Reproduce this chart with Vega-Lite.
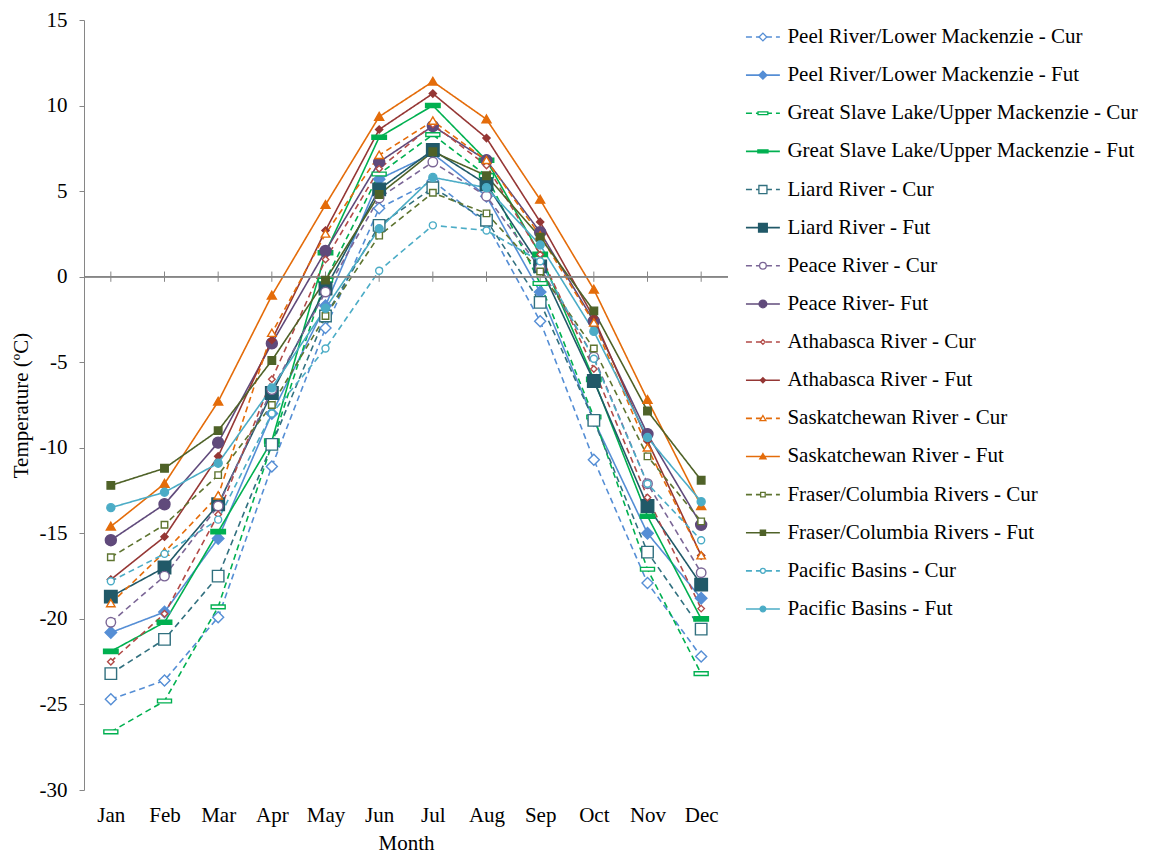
{
  "$schema": "https://vega.github.io/schema/vega-lite/v6.json",
  "padding": {"left": 10, "top": 9, "right": 0, "bottom": 0},
  "background": "white",
  "config": {"view": {"stroke": null}, "font": "Liberation Serif"},
  "spacing": 0,
  "datasets": {
    "series": [
      {"s": "Peel River/Lower Mackenzie - Cur"},
      {"s": "Peel River/Lower Mackenzie - Fut"},
      {"s": "Great Slave Lake/Upper Mackenzie - Cur"},
      {"s": "Great Slave Lake/Upper Mackenzie - Fut"},
      {"s": "Liard River - Cur"},
      {"s": "Liard River - Fut"},
      {"s": "Peace River - Cur"},
      {"s": "Peace River- Fut"},
      {"s": "Athabasca River - Cur"},
      {"s": "Athabasca River - Fut"},
      {"s": "Saskatchewan River - Cur"},
      {"s": "Saskatchewan River - Fut"},
      {"s": "Fraser/Columbia Rivers - Cur"},
      {"s": "Fraser/Columbia Rivers - Fut"},
      {"s": "Pacific Basins - Cur"},
      {"s": "Pacific Basins - Fut"}
    ],
    "months": [
      {"m": "Jan"}, {"m": "Feb"}, {"m": "Mar"}, {"m": "Apr"}, {"m": "May"}, {"m": "Jun"},
      {"m": "Jul"}, {"m": "Aug"}, {"m": "Sep"}, {"m": "Oct"}, {"m": "Nov"}, {"m": "Dec"}
    ],
    "temps": [
      {"s": "Peel River/Lower Mackenzie - Cur", "m": "Jan", "t": -24.7},
      {"s": "Peel River/Lower Mackenzie - Cur", "m": "Feb", "t": -23.6},
      {"s": "Peel River/Lower Mackenzie - Cur", "m": "Mar", "t": -19.9},
      {"s": "Peel River/Lower Mackenzie - Cur", "m": "Apr", "t": -11.1},
      {"s": "Peel River/Lower Mackenzie - Cur", "m": "May", "t": -3.0},
      {"s": "Peel River/Lower Mackenzie - Cur", "m": "Jun", "t": 4.0},
      {"s": "Peel River/Lower Mackenzie - Cur", "m": "Jul", "t": 5.6},
      {"s": "Peel River/Lower Mackenzie - Cur", "m": "Aug", "t": 3.1},
      {"s": "Peel River/Lower Mackenzie - Cur", "m": "Sep", "t": -2.6},
      {"s": "Peel River/Lower Mackenzie - Cur", "m": "Oct", "t": -10.7},
      {"s": "Peel River/Lower Mackenzie - Cur", "m": "Nov", "t": -17.9},
      {"s": "Peel River/Lower Mackenzie - Cur", "m": "Dec", "t": -22.2},
      {"s": "Peel River/Lower Mackenzie - Fut", "m": "Jan", "t": -20.8},
      {"s": "Peel River/Lower Mackenzie - Fut", "m": "Feb", "t": -19.6},
      {"s": "Peel River/Lower Mackenzie - Fut", "m": "Mar", "t": -15.3},
      {"s": "Peel River/Lower Mackenzie - Fut", "m": "Apr", "t": -8.0},
      {"s": "Peel River/Lower Mackenzie - Fut", "m": "May", "t": -1.7},
      {"s": "Peel River/Lower Mackenzie - Fut", "m": "Jun", "t": 5.7},
      {"s": "Peel River/Lower Mackenzie - Fut", "m": "Jul", "t": 7.2},
      {"s": "Peel River/Lower Mackenzie - Fut", "m": "Aug", "t": 4.7},
      {"s": "Peel River/Lower Mackenzie - Fut", "m": "Sep", "t": -0.9},
      {"s": "Peel River/Lower Mackenzie - Fut", "m": "Oct", "t": -8.4},
      {"s": "Peel River/Lower Mackenzie - Fut", "m": "Nov", "t": -15.0},
      {"s": "Peel River/Lower Mackenzie - Fut", "m": "Dec", "t": -18.8},
      {"s": "Great Slave Lake/Upper Mackenzie - Cur", "m": "Jan", "t": -26.6},
      {"s": "Great Slave Lake/Upper Mackenzie - Cur", "m": "Feb", "t": -24.8},
      {"s": "Great Slave Lake/Upper Mackenzie - Cur", "m": "Mar", "t": -19.3},
      {"s": "Great Slave Lake/Upper Mackenzie - Cur", "m": "Apr", "t": -9.8},
      {"s": "Great Slave Lake/Upper Mackenzie - Cur", "m": "May", "t": -0.2},
      {"s": "Great Slave Lake/Upper Mackenzie - Cur", "m": "Jun", "t": 6.0},
      {"s": "Great Slave Lake/Upper Mackenzie - Cur", "m": "Jul", "t": 8.3},
      {"s": "Great Slave Lake/Upper Mackenzie - Cur", "m": "Aug", "t": 5.9},
      {"s": "Great Slave Lake/Upper Mackenzie - Cur", "m": "Sep", "t": -0.4},
      {"s": "Great Slave Lake/Upper Mackenzie - Cur", "m": "Oct", "t": -8.2},
      {"s": "Great Slave Lake/Upper Mackenzie - Cur", "m": "Nov", "t": -17.1},
      {"s": "Great Slave Lake/Upper Mackenzie - Cur", "m": "Dec", "t": -23.2},
      {"s": "Great Slave Lake/Upper Mackenzie - Fut", "m": "Jan", "t": -21.9},
      {"s": "Great Slave Lake/Upper Mackenzie - Fut", "m": "Feb", "t": -20.2},
      {"s": "Great Slave Lake/Upper Mackenzie - Fut", "m": "Mar", "t": -14.9},
      {"s": "Great Slave Lake/Upper Mackenzie - Fut", "m": "Apr", "t": -9.6},
      {"s": "Great Slave Lake/Upper Mackenzie - Fut", "m": "May", "t": 1.4},
      {"s": "Great Slave Lake/Upper Mackenzie - Fut", "m": "Jun", "t": 8.15},
      {"s": "Great Slave Lake/Upper Mackenzie - Fut", "m": "Jul", "t": 10.0},
      {"s": "Great Slave Lake/Upper Mackenzie - Fut", "m": "Aug", "t": 6.8},
      {"s": "Great Slave Lake/Upper Mackenzie - Fut", "m": "Sep", "t": 1.3},
      {"s": "Great Slave Lake/Upper Mackenzie - Fut", "m": "Oct", "t": -6.0},
      {"s": "Great Slave Lake/Upper Mackenzie - Fut", "m": "Nov", "t": -14.0},
      {"s": "Great Slave Lake/Upper Mackenzie - Fut", "m": "Dec", "t": -20.0},
      {"s": "Liard River - Cur", "m": "Jan", "t": -23.2},
      {"s": "Liard River - Cur", "m": "Feb", "t": -21.2},
      {"s": "Liard River - Cur", "m": "Mar", "t": -17.5},
      {"s": "Liard River - Cur", "m": "Apr", "t": -9.8},
      {"s": "Liard River - Cur", "m": "May", "t": -2.3},
      {"s": "Liard River - Cur", "m": "Jun", "t": 3.0},
      {"s": "Liard River - Cur", "m": "Jul", "t": 5.2},
      {"s": "Liard River - Cur", "m": "Aug", "t": 3.3},
      {"s": "Liard River - Cur", "m": "Sep", "t": -1.5},
      {"s": "Liard River - Cur", "m": "Oct", "t": -8.4},
      {"s": "Liard River - Cur", "m": "Nov", "t": -16.1},
      {"s": "Liard River - Cur", "m": "Dec", "t": -20.6},
      {"s": "Liard River - Fut", "m": "Jan", "t": -18.7},
      {"s": "Liard River - Fut", "m": "Feb", "t": -17.0},
      {"s": "Liard River - Fut", "m": "Mar", "t": -13.3},
      {"s": "Liard River - Fut", "m": "Apr", "t": -6.8},
      {"s": "Liard River - Fut", "m": "May", "t": -0.7},
      {"s": "Liard River - Fut", "m": "Jun", "t": 5.1},
      {"s": "Liard River - Fut", "m": "Jul", "t": 7.4},
      {"s": "Liard River - Fut", "m": "Aug", "t": 5.4},
      {"s": "Liard River - Fut", "m": "Sep", "t": 0.6},
      {"s": "Liard River - Fut", "m": "Oct", "t": -6.1},
      {"s": "Liard River - Fut", "m": "Nov", "t": -13.4},
      {"s": "Liard River - Fut", "m": "Dec", "t": -18.0},
      {"s": "Peace River - Cur", "m": "Jan", "t": -20.2},
      {"s": "Peace River - Cur", "m": "Feb", "t": -17.5},
      {"s": "Peace River - Cur", "m": "Mar", "t": -13.4},
      {"s": "Peace River - Cur", "m": "Apr", "t": -6.6},
      {"s": "Peace River - Cur", "m": "May", "t": -0.9},
      {"s": "Peace River - Cur", "m": "Jun", "t": 4.6},
      {"s": "Peace River - Cur", "m": "Jul", "t": 6.7},
      {"s": "Peace River - Cur", "m": "Aug", "t": 4.7},
      {"s": "Peace River - Cur", "m": "Sep", "t": 0.5},
      {"s": "Peace River - Cur", "m": "Oct", "t": -4.7},
      {"s": "Peace River - Cur", "m": "Nov", "t": -12.1},
      {"s": "Peace River - Cur", "m": "Dec", "t": -17.3},
      {"s": "Peace River- Fut", "m": "Jan", "t": -15.4},
      {"s": "Peace River- Fut", "m": "Feb", "t": -13.3},
      {"s": "Peace River- Fut", "m": "Mar", "t": -9.7},
      {"s": "Peace River- Fut", "m": "Apr", "t": -3.9},
      {"s": "Peace River- Fut", "m": "May", "t": 1.5},
      {"s": "Peace River- Fut", "m": "Jun", "t": 6.7},
      {"s": "Peace River- Fut", "m": "Jul", "t": 8.8},
      {"s": "Peace River- Fut", "m": "Aug", "t": 6.8},
      {"s": "Peace River- Fut", "m": "Sep", "t": 2.6},
      {"s": "Peace River- Fut", "m": "Oct", "t": -2.6},
      {"s": "Peace River- Fut", "m": "Nov", "t": -9.2},
      {"s": "Peace River- Fut", "m": "Dec", "t": -14.5},
      {"s": "Athabasca River - Cur", "m": "Jan", "t": -22.5},
      {"s": "Athabasca River - Cur", "m": "Feb", "t": -19.7},
      {"s": "Athabasca River - Cur", "m": "Mar", "t": -13.9},
      {"s": "Athabasca River - Cur", "m": "Apr", "t": -6.0},
      {"s": "Athabasca River - Cur", "m": "May", "t": 1.0},
      {"s": "Athabasca River - Cur", "m": "Jun", "t": 6.3},
      {"s": "Athabasca River - Cur", "m": "Jul", "t": 8.9},
      {"s": "Athabasca River - Cur", "m": "Aug", "t": 6.5},
      {"s": "Athabasca River - Cur", "m": "Sep", "t": 1.3},
      {"s": "Athabasca River - Cur", "m": "Oct", "t": -5.4},
      {"s": "Athabasca River - Cur", "m": "Nov", "t": -12.9},
      {"s": "Athabasca River - Cur", "m": "Dec", "t": -19.4},
      {"s": "Athabasca River - Fut", "m": "Jan", "t": -17.7},
      {"s": "Athabasca River - Fut", "m": "Feb", "t": -15.2},
      {"s": "Athabasca River - Fut", "m": "Mar", "t": -10.5},
      {"s": "Athabasca River - Fut", "m": "Apr", "t": -3.7},
      {"s": "Athabasca River - Fut", "m": "May", "t": 2.7},
      {"s": "Athabasca River - Fut", "m": "Jun", "t": 8.6},
      {"s": "Athabasca River - Fut", "m": "Jul", "t": 10.7},
      {"s": "Athabasca River - Fut", "m": "Aug", "t": 8.1},
      {"s": "Athabasca River - Fut", "m": "Sep", "t": 3.2},
      {"s": "Athabasca River - Fut", "m": "Oct", "t": -2.4},
      {"s": "Athabasca River - Fut", "m": "Nov", "t": -9.6},
      {"s": "Athabasca River - Fut", "m": "Dec", "t": -16.3},
      {"s": "Saskatchewan River - Cur", "m": "Jan", "t": -19.1},
      {"s": "Saskatchewan River - Cur", "m": "Feb", "t": -16.1},
      {"s": "Saskatchewan River - Cur", "m": "Mar", "t": -12.8},
      {"s": "Saskatchewan River - Cur", "m": "Apr", "t": -3.3},
      {"s": "Saskatchewan River - Cur", "m": "May", "t": 2.5},
      {"s": "Saskatchewan River - Cur", "m": "Jun", "t": 7.1},
      {"s": "Saskatchewan River - Cur", "m": "Jul", "t": 9.1},
      {"s": "Saskatchewan River - Cur", "m": "Aug", "t": 6.8},
      {"s": "Saskatchewan River - Cur", "m": "Sep", "t": 2.4},
      {"s": "Saskatchewan River - Cur", "m": "Oct", "t": -2.7},
      {"s": "Saskatchewan River - Cur", "m": "Nov", "t": -10.0},
      {"s": "Saskatchewan River - Cur", "m": "Dec", "t": -16.3},
      {"s": "Saskatchewan River - Fut", "m": "Jan", "t": -14.6},
      {"s": "Saskatchewan River - Fut", "m": "Feb", "t": -12.1},
      {"s": "Saskatchewan River - Fut", "m": "Mar", "t": -7.3},
      {"s": "Saskatchewan River - Fut", "m": "Apr", "t": -1.1},
      {"s": "Saskatchewan River - Fut", "m": "May", "t": 4.2},
      {"s": "Saskatchewan River - Fut", "m": "Jun", "t": 9.35},
      {"s": "Saskatchewan River - Fut", "m": "Jul", "t": 11.4},
      {"s": "Saskatchewan River - Fut", "m": "Aug", "t": 9.2},
      {"s": "Saskatchewan River - Fut", "m": "Sep", "t": 4.5},
      {"s": "Saskatchewan River - Fut", "m": "Oct", "t": -0.75},
      {"s": "Saskatchewan River - Fut", "m": "Nov", "t": -7.2},
      {"s": "Saskatchewan River - Fut", "m": "Dec", "t": -13.4},
      {"s": "Fraser/Columbia Rivers - Cur", "m": "Jan", "t": -16.4},
      {"s": "Fraser/Columbia Rivers - Cur", "m": "Feb", "t": -14.5},
      {"s": "Fraser/Columbia Rivers - Cur", "m": "Mar", "t": -11.6},
      {"s": "Fraser/Columbia Rivers - Cur", "m": "Apr", "t": -7.5},
      {"s": "Fraser/Columbia Rivers - Cur", "m": "May", "t": -2.3},
      {"s": "Fraser/Columbia Rivers - Cur", "m": "Jun", "t": 2.4},
      {"s": "Fraser/Columbia Rivers - Cur", "m": "Jul", "t": 4.9},
      {"s": "Fraser/Columbia Rivers - Cur", "m": "Aug", "t": 3.7},
      {"s": "Fraser/Columbia Rivers - Cur", "m": "Sep", "t": 0.3},
      {"s": "Fraser/Columbia Rivers - Cur", "m": "Oct", "t": -4.2},
      {"s": "Fraser/Columbia Rivers - Cur", "m": "Nov", "t": -10.5},
      {"s": "Fraser/Columbia Rivers - Cur", "m": "Dec", "t": -14.3},
      {"s": "Fraser/Columbia Rivers - Fut", "m": "Jan", "t": -12.2},
      {"s": "Fraser/Columbia Rivers - Fut", "m": "Feb", "t": -11.2},
      {"s": "Fraser/Columbia Rivers - Fut", "m": "Mar", "t": -9.0},
      {"s": "Fraser/Columbia Rivers - Fut", "m": "Apr", "t": -4.9},
      {"s": "Fraser/Columbia Rivers - Fut", "m": "May", "t": -0.2},
      {"s": "Fraser/Columbia Rivers - Fut", "m": "Jun", "t": 4.8},
      {"s": "Fraser/Columbia Rivers - Fut", "m": "Jul", "t": 7.3},
      {"s": "Fraser/Columbia Rivers - Fut", "m": "Aug", "t": 5.9},
      {"s": "Fraser/Columbia Rivers - Fut", "m": "Sep", "t": 2.3},
      {"s": "Fraser/Columbia Rivers - Fut", "m": "Oct", "t": -2.0},
      {"s": "Fraser/Columbia Rivers - Fut", "m": "Nov", "t": -7.85},
      {"s": "Fraser/Columbia Rivers - Fut", "m": "Dec", "t": -11.9},
      {"s": "Pacific Basins - Cur", "m": "Jan", "t": -17.8},
      {"s": "Pacific Basins - Cur", "m": "Feb", "t": -16.2},
      {"s": "Pacific Basins - Cur", "m": "Mar", "t": -14.2},
      {"s": "Pacific Basins - Cur", "m": "Apr", "t": -8.0},
      {"s": "Pacific Basins - Cur", "m": "May", "t": -4.2},
      {"s": "Pacific Basins - Cur", "m": "Jun", "t": 0.35},
      {"s": "Pacific Basins - Cur", "m": "Jul", "t": 3.0},
      {"s": "Pacific Basins - Cur", "m": "Aug", "t": 2.7},
      {"s": "Pacific Basins - Cur", "m": "Sep", "t": 0.9},
      {"s": "Pacific Basins - Cur", "m": "Oct", "t": -4.8},
      {"s": "Pacific Basins - Cur", "m": "Nov", "t": -12.1},
      {"s": "Pacific Basins - Cur", "m": "Dec", "t": -15.4},
      {"s": "Pacific Basins - Fut", "m": "Jan", "t": -13.5},
      {"s": "Pacific Basins - Fut", "m": "Feb", "t": -12.6},
      {"s": "Pacific Basins - Fut", "m": "Mar", "t": -10.9},
      {"s": "Pacific Basins - Fut", "m": "Apr", "t": -6.5},
      {"s": "Pacific Basins - Fut", "m": "May", "t": -1.85},
      {"s": "Pacific Basins - Fut", "m": "Jun", "t": 2.8},
      {"s": "Pacific Basins - Fut", "m": "Jul", "t": 5.8},
      {"s": "Pacific Basins - Fut", "m": "Aug", "t": 5.2},
      {"s": "Pacific Basins - Fut", "m": "Sep", "t": 1.85},
      {"s": "Pacific Basins - Fut", "m": "Oct", "t": -3.2},
      {"s": "Pacific Basins - Fut", "m": "Nov", "t": -9.4},
      {"s": "Pacific Basins - Fut", "m": "Dec", "t": -13.15}
    ]
  },
  "hconcat": [
    {
      "width": 644,
      "height": 770,
      "layer": [
        {
          "data": {"name": "temps"},
          "mark": {"type": "line", "strokeWidth": 1.6},
          "encoding": {
            "x": {
              "field": "m", "type": "ordinal",
              "scale": {"type": "point", "padding": 0.5, "domain": ["Jan","Feb","Mar","Apr","May","Jun","Jul","Aug","Sep","Oct","Nov","Dec"]},
              "axis": {"title": "Month", "domain": false, "ticks": false, "labelAngle": 0, "labelPadding": 14, "titlePadding": 7,
                       "labelFont": "Liberation Serif", "labelFontSize": 21, "labelColor": "black",
                       "titleFont": "Liberation Serif", "titleFontSize": 21, "titleFontWeight": "normal", "titleColor": "black"}
            },
            "y": {
              "field": "t", "type": "quantitative",
              "scale": {"domain": [-30, 15], "nice": false, "zero": false},
              "axis": {"title": "Temperature (ºC)", "values": [-30,-25,-20,-15,-10,-5,0,5,10,15], "grid": false,
                       "labelExpr": "toString(datum.value)",
                       "domainColor": "#868686", "tickColor": "#868686", "tickSize": 5, "labelPadding": 12, "titlePadding": 8,
                       "labelFont": "Liberation Serif", "labelFontSize": 21, "labelColor": "black",
                       "titleFont": "Liberation Serif", "titleFontSize": 21, "titleFontWeight": "normal", "titleColor": "black"}
            },
            "order": {"value": null},
            "stroke": {"field": "s", "type": "nominal", "legend": null,
              "scale": {"domain": ["Peel River/Lower Mackenzie - Cur","Peel River/Lower Mackenzie - Fut","Great Slave Lake/Upper Mackenzie - Cur","Great Slave Lake/Upper Mackenzie - Fut","Liard River - Cur","Liard River - Fut","Peace River - Cur","Peace River- Fut","Athabasca River - Cur","Athabasca River - Fut","Saskatchewan River - Cur","Saskatchewan River - Fut","Fraser/Columbia Rivers - Cur","Fraser/Columbia Rivers - Fut","Pacific Basins - Cur","Pacific Basins - Fut"],
                "range": ["#558ED5","#558ED5","#00B050","#00B050","#31707F","#215968","#7B6696","#604A7B","#B24A47","#953735","#E46C0A","#E46C0A","#5E7430","#4F6228","#4BACC6","#4BACC6"]}},
            "strokeDash": {"field": "s", "type": "nominal", "legend": null,
              "scale": {"domain": ["Peel River/Lower Mackenzie - Cur","Peel River/Lower Mackenzie - Fut","Great Slave Lake/Upper Mackenzie - Cur","Great Slave Lake/Upper Mackenzie - Fut","Liard River - Cur","Liard River - Fut","Peace River - Cur","Peace River- Fut","Athabasca River - Cur","Athabasca River - Fut","Saskatchewan River - Cur","Saskatchewan River - Fut","Fraser/Columbia Rivers - Cur","Fraser/Columbia Rivers - Fut","Pacific Basins - Cur","Pacific Basins - Fut"],
                "range": [[6,4],[1,0],[6,4],[1,0],[6,4],[1,0],[6,4],[1,0],[6,4],[1,0],[6,4],[1,0],[6,4],[1,0],[6,4],[1,0]]}}
          }
        },
        {
          "data": {"name": "months"},
          "mark": {"type": "rule", "color": "#868686", "strokeWidth": 1},
          "encoding": {"y": {"datum": 0, "type": "quantitative"}}
        },
        {
          "data": {"name": "months"},
          "mark": {"type": "rule", "color": "#868686", "strokeWidth": 1},
          "encoding": {
            "x": {"field": "m", "type": "ordinal"},
            "y": {"datum": 0.3, "type": "quantitative"},
            "y2": {"datum": -0.3}
          }
        },
        {
          "data": {"name": "temps"},
          "mark": {"type": "point", "strokeWidth": 1.4, "opacity": 1, "size": 100},
          "encoding": {
            "x": {"field": "m", "type": "ordinal"},
            "y": {"field": "t", "type": "quantitative"},
            "stroke": {"field": "s", "type": "nominal", "legend": null},
            "fill": {"field": "s", "type": "nominal", "legend": null,
              "scale": {"domain": ["Peel River/Lower Mackenzie - Cur","Peel River/Lower Mackenzie - Fut","Great Slave Lake/Upper Mackenzie - Cur","Great Slave Lake/Upper Mackenzie - Fut","Liard River - Cur","Liard River - Fut","Peace River - Cur","Peace River- Fut","Athabasca River - Cur","Athabasca River - Fut","Saskatchewan River - Cur","Saskatchewan River - Fut","Fraser/Columbia Rivers - Cur","Fraser/Columbia Rivers - Fut","Pacific Basins - Cur","Pacific Basins - Fut"],
                "range": ["#ffffff","#558ED5","#ffffff","#00B050","#ffffff","#215968","#ffffff","#604A7B","#ffffff","#953735","#ffffff","#E46C0A","#ffffff","#4F6228","#ffffff","#4BACC6"]}},
            "shape": {"field": "s", "type": "nominal", "legend": null,
              "scale": {"domain": ["Peel River/Lower Mackenzie - Cur","Peel River/Lower Mackenzie - Fut","Great Slave Lake/Upper Mackenzie - Cur","Great Slave Lake/Upper Mackenzie - Fut","Liard River - Cur","Liard River - Fut","Peace River - Cur","Peace River- Fut","Athabasca River - Cur","Athabasca River - Fut","Saskatchewan River - Cur","Saskatchewan River - Fut","Fraser/Columbia Rivers - Cur","Fraser/Columbia Rivers - Fut","Pacific Basins - Cur","Pacific Basins - Fut"],
                "range": [
                  "M-1.1,0L0,-1.1L1.1,0L0,1.1Z",
                  "M-1.15,0L0,-1.15L1.15,0L0,1.15Z",
                  "M-1.4,-0.38H1.4V0.38H-1.4Z",
                  "M-1.45,-0.42H1.45V0.42H-1.45Z",
                  "M-1.15,-1.15H1.15V1.15H-1.15Z",
                  "M-1.25,-1.25H1.25V1.25H-1.25Z",
                  "M-0.95,0A0.95,0.95,0,1,0,0.95,0A0.95,0.95,0,1,0,-0.95,0Z",
                  "M-1.1,0A1.1,1.1,0,1,0,1.1,0A1.1,1.1,0,1,0,-1.1,0Z",
                  "M-0.65,0L0,-0.65L0.65,0L0,0.65Z",
                  "M-0.72,0L0,-0.72L0.72,0L0,0.72Z",
                  "M0,-0.8L0.85,0.65H-0.85Z",
                  "M0,-0.85L0.9,0.7H-0.9Z",
                  "M-0.65,-0.65H0.65V0.65H-0.65Z",
                  "M-0.75,-0.75H0.75V0.75H-0.75Z",
                  "M-0.7,0A0.7,0.7,0,1,0,0.7,0A0.7,0.7,0,1,0,-0.7,0Z",
                  "M-0.8,0A0.8,0.8,0,1,0,0.8,0A0.8,0.8,0,1,0,-0.8,0Z"
                ]}}
          }
        }
      ]
    },
    {
      "width": 424,
      "height": 770,
      "data": {"name": "series"},
      "layer": [
        {
          "mark": {"type": "rule", "strokeWidth": 1.6},
          "encoding": {
            "x": {"datum": 18, "type": "quantitative", "scale": {"domain": [0, 424]}, "axis": null},
            "x2": {"datum": 54},
            "y": {"field": "s", "type": "nominal", "axis": null, "sort": null,
                  "scale": {"type": "point", "padding": 0, "range": [17, 589]}},
            "stroke": {"field": "s", "type": "nominal", "legend": null,
              "scale": {"domain": ["Peel River/Lower Mackenzie - Cur","Peel River/Lower Mackenzie - Fut","Great Slave Lake/Upper Mackenzie - Cur","Great Slave Lake/Upper Mackenzie - Fut","Liard River - Cur","Liard River - Fut","Peace River - Cur","Peace River- Fut","Athabasca River - Cur","Athabasca River - Fut","Saskatchewan River - Cur","Saskatchewan River - Fut","Fraser/Columbia Rivers - Cur","Fraser/Columbia Rivers - Fut","Pacific Basins - Cur","Pacific Basins - Fut"],
                "range": ["#558ED5","#558ED5","#00B050","#00B050","#31707F","#215968","#7B6696","#604A7B","#B24A47","#953735","#E46C0A","#E46C0A","#5E7430","#4F6228","#4BACC6","#4BACC6"]}},
            "strokeDash": {"field": "s", "type": "nominal", "legend": null,
              "scale": {"domain": ["Peel River/Lower Mackenzie - Cur","Peel River/Lower Mackenzie - Fut","Great Slave Lake/Upper Mackenzie - Cur","Great Slave Lake/Upper Mackenzie - Fut","Liard River - Cur","Liard River - Fut","Peace River - Cur","Peace River- Fut","Athabasca River - Cur","Athabasca River - Fut","Saskatchewan River - Cur","Saskatchewan River - Fut","Fraser/Columbia Rivers - Cur","Fraser/Columbia Rivers - Fut","Pacific Basins - Cur","Pacific Basins - Fut"],
                "range": [[5,5],[1,0],[5,5],[1,0],[5,5],[1,0],[5,5],[1,0],[5,5],[1,0],[5,5],[1,0],[5,5],[1,0],[5,5],[1,0]]}}
          }
        },
        {
          "mark": {"type": "point", "strokeWidth": 1.3, "opacity": 1, "size": 49},
          "encoding": {
            "x": {"datum": 36, "type": "quantitative"},
            "y": {"field": "s", "type": "nominal", "sort": null},
            "stroke": {"field": "s", "type": "nominal", "legend": null},
            "fill": {"field": "s", "type": "nominal", "legend": null,
              "scale": {"domain": ["Peel River/Lower Mackenzie - Cur","Peel River/Lower Mackenzie - Fut","Great Slave Lake/Upper Mackenzie - Cur","Great Slave Lake/Upper Mackenzie - Fut","Liard River - Cur","Liard River - Fut","Peace River - Cur","Peace River- Fut","Athabasca River - Cur","Athabasca River - Fut","Saskatchewan River - Cur","Saskatchewan River - Fut","Fraser/Columbia Rivers - Cur","Fraser/Columbia Rivers - Fut","Pacific Basins - Cur","Pacific Basins - Fut"],
                "range": ["#ffffff","#558ED5","#ffffff","#00B050","#ffffff","#215968","#ffffff","#604A7B","#ffffff","#953735","#ffffff","#E46C0A","#ffffff","#4F6228","#ffffff","#4BACC6"]}},
            "shape": {"field": "s", "type": "nominal", "legend": null,
              "scale": {"domain": ["Peel River/Lower Mackenzie - Cur","Peel River/Lower Mackenzie - Fut","Great Slave Lake/Upper Mackenzie - Cur","Great Slave Lake/Upper Mackenzie - Fut","Liard River - Cur","Liard River - Fut","Peace River - Cur","Peace River- Fut","Athabasca River - Cur","Athabasca River - Fut","Saskatchewan River - Cur","Saskatchewan River - Fut","Fraser/Columbia Rivers - Cur","Fraser/Columbia Rivers - Fut","Pacific Basins - Cur","Pacific Basins - Fut"],
                "range": [
                  "M-1.1,0L0,-1.1L1.1,0L0,1.1Z",
                  "M-1.15,0L0,-1.15L1.15,0L0,1.15Z",
                  "M-1.4,-0.38H1.4V0.38H-1.4Z",
                  "M-1.45,-0.42H1.45V0.42H-1.45Z",
                  "M-1.15,-1.15H1.15V1.15H-1.15Z",
                  "M-1.25,-1.25H1.25V1.25H-1.25Z",
                  "M-0.95,0A0.95,0.95,0,1,0,0.95,0A0.95,0.95,0,1,0,-0.95,0Z",
                  "M-1.1,0A1.1,1.1,0,1,0,1.1,0A1.1,1.1,0,1,0,-1.1,0Z",
                  "M-0.65,0L0,-0.65L0.65,0L0,0.65Z",
                  "M-0.72,0L0,-0.72L0.72,0L0,0.72Z",
                  "M0,-0.8L0.85,0.65H-0.85Z",
                  "M0,-0.85L0.9,0.7H-0.9Z",
                  "M-0.65,-0.65H0.65V0.65H-0.65Z",
                  "M-0.75,-0.75H0.75V0.75H-0.75Z",
                  "M-0.7,0A0.7,0.7,0,1,0,0.7,0A0.7,0.7,0,1,0,-0.7,0Z",
                  "M-0.8,0A0.8,0.8,0,1,0,0.8,0A0.8,0.8,0,1,0,-0.8,0Z"
                ]}}
          }
        },
        {
          "mark": {"type": "text", "align": "left", "baseline": "middle", "font": "Liberation Serif", "fontSize": 21, "color": "black"},
          "encoding": {
            "x": {"datum": 62, "type": "quantitative"},
            "y": {"field": "s", "type": "nominal", "sort": null},
            "text": {"field": "s"}
          }
        }
      ]
    }
  ]
}
